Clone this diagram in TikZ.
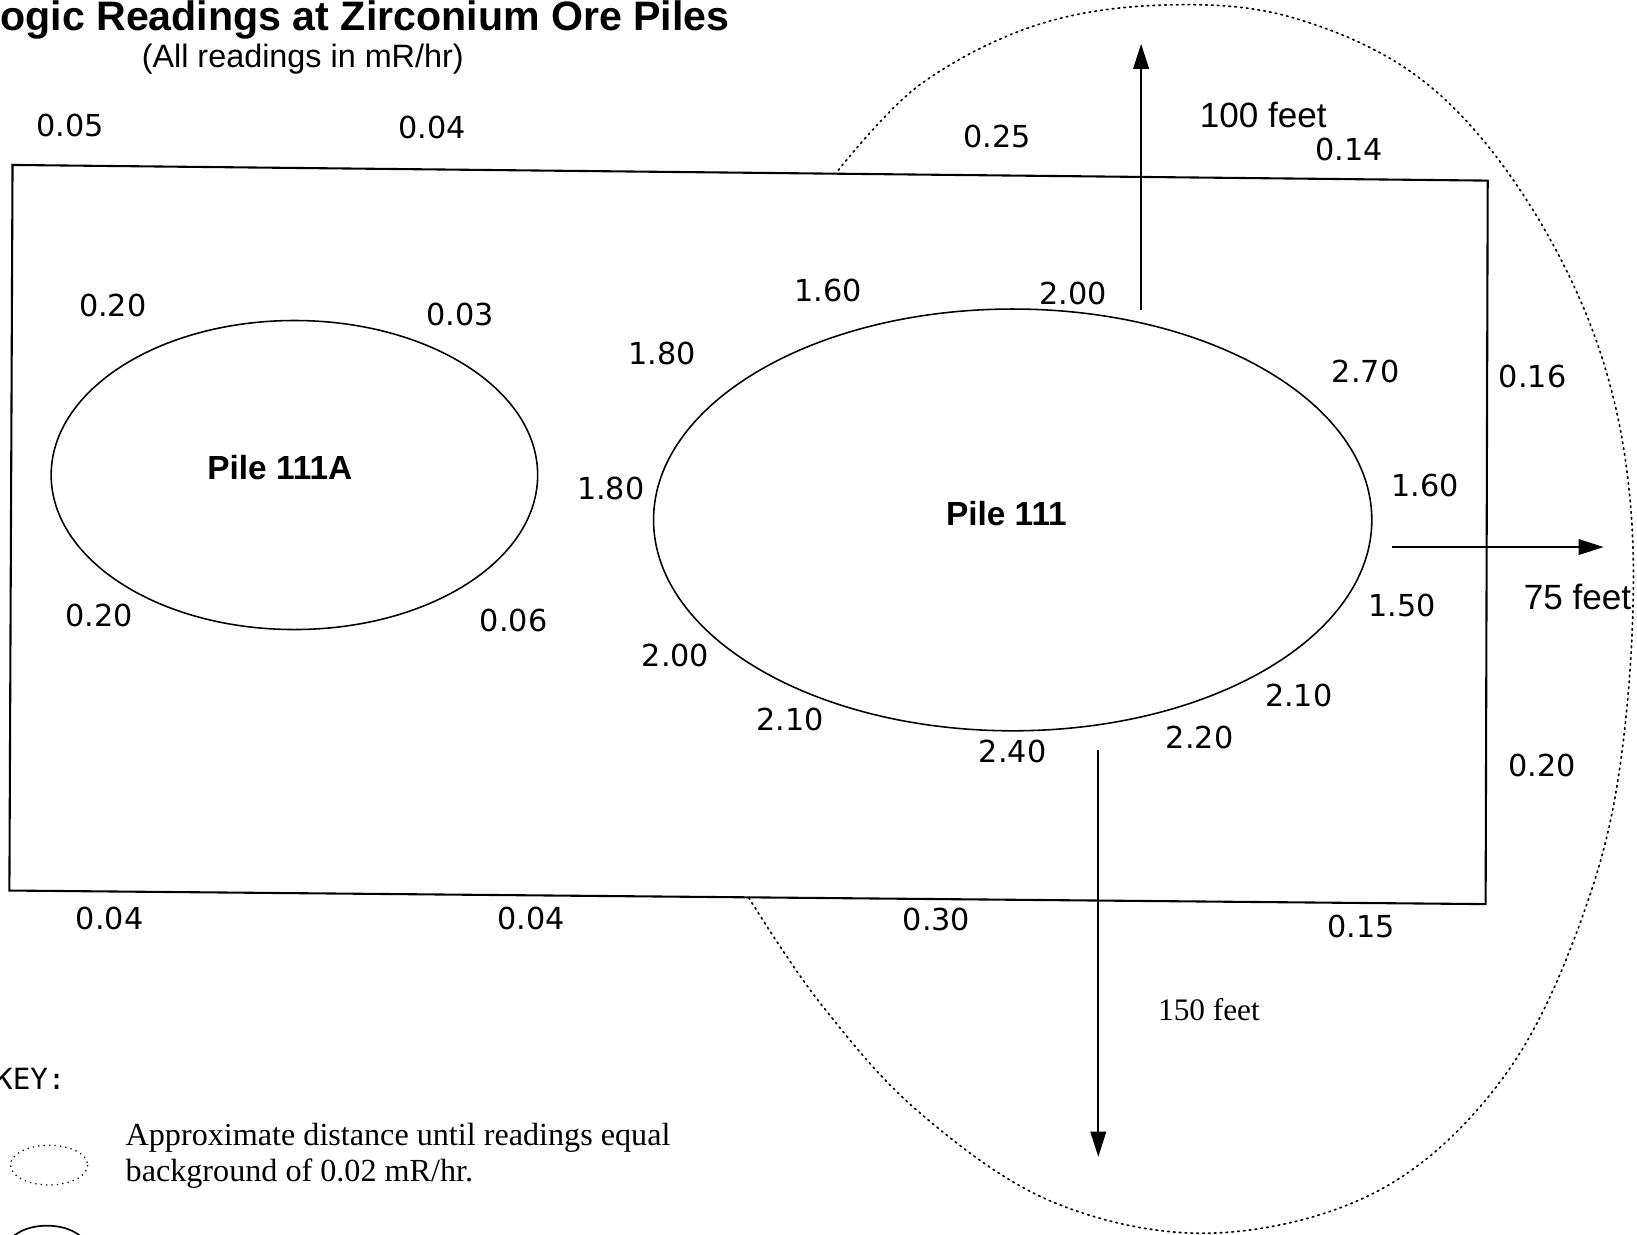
\documentclass[tikz,border=0pt]{standalone}
\usepackage{fontspec}
\setmainfont{Liberation Sans}
\newfontfamily\serifx{Liberation Serif}
\newfontfamily\handx{DejaVu Sans}
\newfontfamily\monox{DejaVu Sans Mono}
\usetikzlibrary{arrows.meta}
\begin{document}
\begin{tikzpicture}[x=0.5pt,y=-0.5pt,
  reading/.style={font=\handx\fontsize{14.5}{16}\selectfont, inner sep=0pt},
  pilelabel/.style={font=\bfseries\fontsize{16}{18}\selectfont, inner sep=0pt},
  dist/.style={font=\fontsize{16.8}{19}\selectfont, inner sep=0pt},
  arr/.style={line width=0.8pt, -{Triangle[length=12pt,width=7.5pt]}},
  boundary/.style={line width=0.8pt, dotted, line cap=round},
  lot/.style={line width=1pt}]
\clip (0,0) rectangle (1568,1182);
\fill[white] (0,0) rectangle (1568,1182);
% title
\node[anchor=base west, inner sep=0pt, font=\bfseries\fontsize{19.7}{22}\selectfont] (title) at (0,29) {ogic Readings at Zirconium Ore Piles};
\node[inner sep=0pt, font=\fontsize{15.5}{18}\selectfont] (subtitle) at (290,57) {(All readings in mR/hr)};
% lot boundary
\coordinate (tl) at (12,158);
\coordinate (tr) at (1425,173);
\coordinate (br) at (1423,866);
\coordinate (bl) at (9,853);
\draw[lot] (tl) -- (tr) -- (br) -- (bl) -- cycle;
% outer dotted boundary
\draw[boundary] plot[smooth, tension=0.6] coordinates {(803,163) (880,82) (990,25) (1110,5) (1235,16) (1360,75) (1458,185) (1532,335) (1563,500) (1556,700) (1522,860) (1445,1025) (1325,1138) (1165,1181) (1010,1152) (880,1065) (785,960) (716,858)};
% piles
\draw[line width=0.75pt] (282,455) ellipse [x radius=233, y radius=148];
\draw[line width=0.75pt] (970,498) ellipse [x radius=344, y radius=202];
\node[pilelabel] (p111a) at (268,448) {Pile 111A};
\node[pilelabel] (p111) at (964,492) {Pile 111};
% arrows
\coordinate (upS) at (1093,297);
\coordinate (upE) at (1093,42);
\coordinate (rtS) at (1333,524);
\coordinate (rtE) at (1536,524);
\coordinate (dnS) at (1052,718);
\coordinate (dnE) at (1052,1108);
\draw[arr] (upS) -- (upE);
\draw[arr] (rtS) -- (rtE);
\draw[arr] (dnS) -- (dnE);
\node[dist] (d100) at (1210,110) {100 feet};
\node[dist] (d75) at (1511,572) {75 feet};
\node[dist, font=\serifx\fontsize{15}{17}\selectfont] (d150) at (1158,967) {150 feet};
% readings
\node[reading] (r1) at (67,120) {0.05};
\node[reading] (r2) at (414,122) {0.04};
\node[reading] (r3) at (955,131) {0.25};
\node[reading] (r4) at (1292,143) {0.14};
\node[reading] (r5) at (108,293) {0.20};
\node[reading] (r6) at (441,301) {0.03};
\node[reading] (r7) at (793,278) {1.60};
\node[reading] (r8) at (1028,281) {2.00};
\node[reading] (r9) at (634,339) {1.80};
\node[reading] (r10) at (1308,356) {2.70};
\node[reading] (r11) at (1468,361) {0.16};
\node[reading] (r12) at (585,468) {1.80};
\node[reading] (r13) at (1365,465) {1.60};
\node[reading] (r14) at (95,590) {0.20};
\node[reading] (r15) at (492,594) {0.06};
\node[reading] (r16) at (1343,580) {1.50};
\node[reading] (r17) at (647,628) {2.00};
\node[reading] (r18) at (1244,666) {2.10};
\node[reading] (r19) at (757,689) {2.10};
\node[reading] (r20) at (970,720) {2.40};
\node[reading] (r21) at (1149,706) {2.20};
\node[reading] (r22) at (1477,733) {0.20};
\node[reading] (r23) at (105,880) {0.04};
\node[reading] (r24) at (509,880) {0.04};
\node[reading] (r25) at (897,881) {0.30};
\node[reading] (r26) at (1304,887) {0.15};
% key
\node[anchor=west, inner sep=0pt, font=\monox\fontsize{14}{16}\selectfont] (key) at (-5,1033) {KEY:};
\draw[line width=0.6pt, dotted] (47,1116) ellipse [x radius=37, y radius=19];
\node[anchor=west, inner sep=0pt, align=left, font=\serifx\fontsize{15.4}{17.5}\selectfont] (keytext) at (120,1107) {Approximate distance until readings equal\\background of 0.02 mR/hr.};
\draw[line width=0.8pt] (45,1196) ellipse [x radius=38, y radius=22];
\end{tikzpicture}
\end{document}
